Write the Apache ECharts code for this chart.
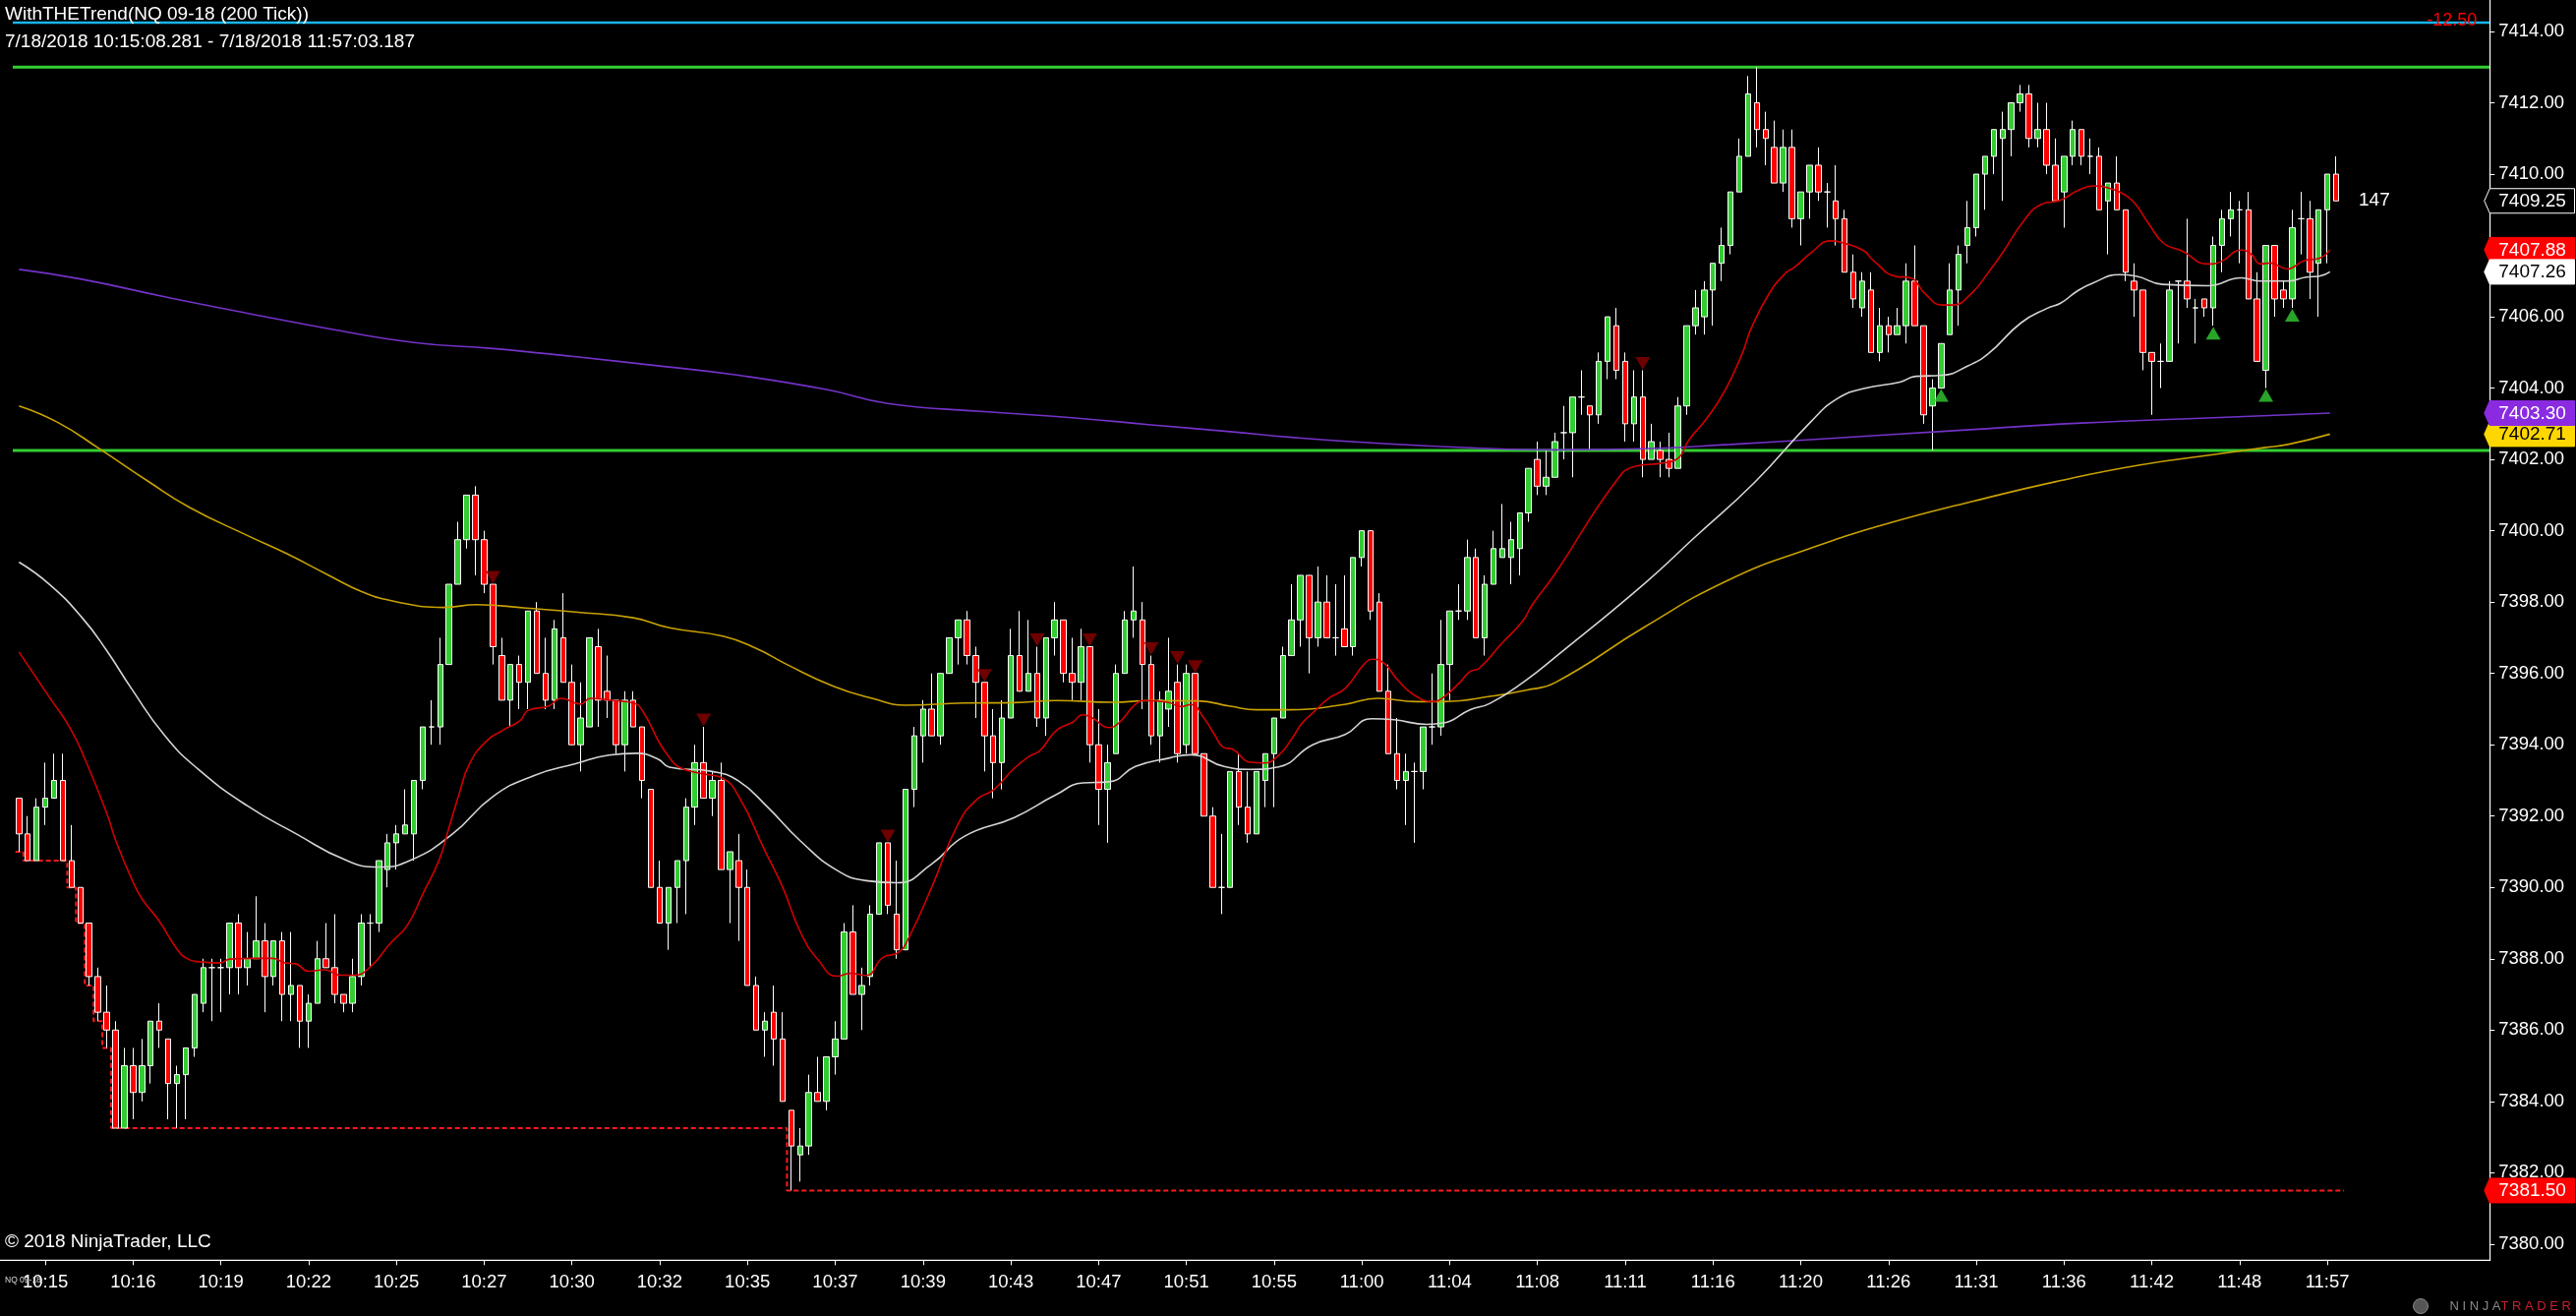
<!DOCTYPE html>
<html>
<head>
<meta charset="utf-8">
<title>WithTHETrend NQ 09-18 (200 Tick)</title>
<script src="https://cdn.jsdelivr.net/npm/echarts@6.0.0/dist/echarts.min.js"></script>
<style>
html,body{margin:0;padding:0;background:#000;overflow:hidden;}
#chart{width:2620px;height:1338px;}
</style>
</head>
<body>
<div id="chart"></div>
<script>
// ---------------- DATA ----------------
const titleText = 'WithTHETrend(NQ 09-18 (200 Tick))';
const rangeText = '7/18/2018 10:15:08.281 - 7/18/2018 11:57:03.187';
const timeLabels = ['10:15','10:16','10:19','10:22','10:25','10:27','10:30','10:32','10:35','10:37','10:39','10:43','10:47','10:51','10:55','11:00','11:04','11:08','11:11','11:16','11:20','11:26','11:31','11:36','11:42','11:48','11:57'];
const labelStart = 3;   // bar index of first time label
const labelStep = 10;   // a time label every 10 bars
const slotCount = 282;  // bar slots on the axis (265 bars + empty right margin)

const open = [
7392.5,7391.5,7390.75,7392.25,7392.5,7393.0,7390.75,7390.0,7389.0,7387.5,
7386.5,7386.0,7383.25,7385.0,7384.25,7385.0,7386.25,7385.75,7384.5,7384.75,
7385.5,7386.75,7387.75,7387.75,7387.75,7389.0,7387.75,7388.0,7388.5,7387.5,
7388.5,7387.0,7387.25,7386.25,7386.75,7388.0,7387.75,7387.0,7386.75,7387.5,
7389.0,7389.0,7390.5,7391.25,7391.5,7391.5,7393.0,7394.5,7394.5,7396.25,
7398.5,7399.75,7401.0,7399.75,7398.5,7396.5,7395.25,7396.25,7395.75,7397.75,
7396.0,7395.25,7397.0,7395.75,7394.0,7394.5,7396.75,7395.5,7395.25,7394.0,
7395.25,7394.5,7392.75,7390.0,7389.0,7390.0,7390.75,7392.25,7393.5,7392.5,
7393.0,7390.5,7390.75,7390.0,7387.25,7386.0,7386.5,7385.75,7383.75,7382.5,
7382.75,7384.25,7384.0,7385.25,7385.75,7388.75,7387.0,7387.5,7389.25,7391.25,
7389.25,7388.25,7392.75,7394.25,7395.0,7394.25,7396.0,7397.0,7397.5,7396.5,
7395.75,7394.25,7393.5,7394.75,7396.5,7395.5,7396.0,7394.75,7397.0,7397.5,
7396.0,7395.75,7396.75,7394.0,7392.75,7393.75,7396.0,7397.5,7397.5,7396.25,
7394.25,7395.0,7395.75,7394.0,7396.0,7393.75,7392.0,7390.0,7390.0,7393.25,
7392.25,7391.5,7393.0,7393.75,7394.75,7396.5,7397.5,7398.75,7397.0,7398.0,
7397.0,7397.25,7396.75,7399.25,7400.0,7398.0,7395.5,7393.75,7393.0,7393.25,
7393.25,7394.5,7394.5,7396.25,7397.75,7397.75,7399.25,7397.0,7398.5,7399.25,
7399.25,7399.5,7400.5,7402.0,7401.25,7401.5,7402.75,7402.75,7403.75,7403.5,
7403.25,7404.75,7405.75,7404.75,7403.0,7403.75,7402.0,7402.25,7402.0,7401.75,
7403.5,7405.75,7406.0,7406.75,7407.5,7408.0,7409.5,7410.5,7412.0,7411.25,
7410.75,7409.75,7410.75,7408.75,7409.5,7410.25,7409.5,7409.25,7408.75,7407.25,
7406.25,7406.75,7405.0,7405.75,7405.5,7405.75,7407.0,7405.75,7403.5,7404.0,
7405.5,7406.75,7408.0,7408.5,7410.0,7410.5,7411.0,7411.25,7412.0,7412.25,
7411.0,7411.25,7410.25,7409.5,7410.5,7411.25,7410.5,7410.5,7409.25,7409.75,
7409.0,7407.0,7406.75,7405.0,7404.75,7404.75,7407.0,7407.0,7406.25,7406.5,
7406.25,7408.0,7408.75,7409.0,7409.0,7406.5,7404.5,7408.0,7406.75,7406.5,
7408.75,7408.75,7407.5,7409.0,7410.0];
const high = [
7392.5,7392.0,7392.5,7393.5,7393.75,7393.75,7391.75,7390.0,7389.0,7387.75,
7387.25,7386.25,7385.5,7385.5,7385.75,7386.25,7386.75,7385.75,7385.0,7385.5,
7387.0,7388.0,7388.0,7388.0,7389.0,7389.25,7388.75,7389.75,7389.0,7388.5,
7388.75,7388.75,7387.25,7387.0,7388.5,7389.0,7389.25,7387.0,7388.0,7389.25,
7389.25,7390.75,7391.5,7391.75,7392.75,7393.0,7394.5,7395.25,7397.0,7398.5,
7400.25,7401.0,7401.25,7400.0,7398.5,7397.0,7396.25,7396.5,7397.75,7398.0,
7397.0,7397.5,7398.25,7396.25,7395.75,7397.0,7397.25,7396.5,7395.25,7395.5,
7395.5,7394.5,7392.75,7390.75,7390.0,7390.75,7392.5,7394.0,7394.5,7393.25,
7393.5,7391.0,7391.5,7390.5,7387.5,7386.5,7387.25,7386.5,7383.75,7383.25,
7384.75,7385.25,7385.25,7386.25,7389.0,7389.5,7387.75,7389.5,7391.25,7391.25,
7390.75,7392.75,7394.5,7395.25,7396.0,7396.0,7397.0,7397.5,7397.75,7396.75,
7395.75,7395.0,7395.25,7397.25,7397.75,7397.5,7396.75,7397.0,7398.0,7397.5,
7397.0,7397.25,7396.75,7395.0,7394.0,7396.25,7397.75,7399.0,7398.0,7396.5,
7395.5,7397.0,7396.25,7396.25,7396.0,7393.75,7392.25,7391.5,7393.25,7393.75,
7393.25,7393.25,7393.75,7394.75,7396.75,7398.5,7398.75,7398.75,7399.0,7398.75,
7398.5,7398.75,7399.25,7400.0,7400.0,7398.25,7396.25,7394.75,7393.75,7393.5,
7394.5,7396.0,7397.5,7397.75,7398.5,7399.75,7399.5,7398.75,7400.0,7400.75,
7400.25,7400.5,7401.75,7402.5,7402.25,7402.75,7403.5,7403.75,7404.5,7403.5,
7405.0,7406.0,7406.25,7405.0,7404.5,7404.5,7403.0,7402.5,7402.75,7403.75,
7405.75,7406.75,7407.0,7407.5,7408.5,7409.5,7411.0,7412.75,7413.0,7411.75,
7411.5,7411.25,7411.25,7409.5,7410.25,7410.75,7409.75,7410.25,7409.0,7407.75,
7407.25,7407.25,7406.25,7406.0,7406.25,7407.5,7408.0,7405.75,7404.25,7405.25,
7407.5,7408.0,7409.25,7410.0,7410.5,7411.25,7411.75,7412.0,7412.5,7412.5,
7412.0,7412.0,7411.0,7410.5,7411.5,7411.25,7411.0,7410.75,7409.75,7410.5,
7409.0,7407.5,7406.75,7405.0,7405.25,7407.0,7407.0,7408.75,7406.5,7406.5,
7408.25,7409.0,7409.5,7409.25,7409.5,7407.25,7408.0,7408.0,7407.0,7409.0,
7409.5,7409.25,7409.0,7410.0,7410.5];
const low = [
7391.0,7390.75,7390.75,7391.75,7392.5,7390.75,7390.0,7389.0,7387.25,7386.25,
7385.5,7383.25,7383.25,7383.5,7384.0,7384.5,7385.5,7383.5,7383.25,7383.5,
7385.25,7386.5,7386.25,7386.5,7387.0,7387.0,7387.25,7388.0,7386.5,7387.25,
7386.25,7386.25,7385.5,7385.5,7386.75,7387.75,7386.75,7386.5,7386.5,7387.25,
7387.75,7388.75,7390.0,7390.5,7391.5,7390.75,7392.75,7394.0,7394.0,7396.25,
7398.5,7399.5,7398.75,7398.25,7396.25,7395.25,7394.5,7395.0,7395.0,7396.0,
7395.0,7395.0,7395.75,7394.0,7393.25,7394.5,7394.5,7394.75,7393.75,7393.25,
7394.5,7392.5,7390.0,7389.0,7388.25,7389.0,7389.25,7391.75,7392.5,7392.0,
7390.5,7389.0,7388.5,7387.25,7386.0,7385.25,7385.0,7384.0,7381.5,7381.75,
7382.5,7384.0,7383.75,7384.75,7385.75,7387.0,7386.0,7387.25,7389.25,7389.25,
7388.0,7388.25,7392.25,7393.5,7394.25,7394.0,7396.0,7396.25,7396.25,7394.75,
7393.25,7392.5,7392.75,7394.75,7395.5,7395.5,7394.5,7394.25,7396.5,7395.75,
7395.25,7395.25,7393.5,7391.75,7391.25,7393.75,7396.0,7397.0,7395.0,7394.0,
7393.5,7394.5,7393.5,7393.75,7393.75,7392.0,7390.0,7389.25,7390.0,7391.75,
7391.25,7391.5,7392.25,7392.25,7394.75,7396.5,7396.75,7396.0,7396.75,7397.0,
7396.5,7396.75,7396.5,7399.0,7397.5,7395.5,7393.75,7392.75,7391.75,7391.25,
7392.75,7394.0,7394.25,7395.25,7397.5,7397.5,7397.0,7396.5,7398.5,7399.25,
7398.5,7398.75,7400.25,7401.0,7401.0,7401.5,7402.0,7401.5,7403.25,7402.25,
7403.0,7404.25,7404.25,7402.5,7402.5,7401.5,7402.0,7401.5,7401.5,7401.75,
7403.25,7405.5,7405.5,7405.75,7407.0,7407.75,7409.5,7410.5,7410.75,7410.25,
7409.75,7409.5,7408.5,7408.0,7408.75,7409.25,7408.5,7408.0,7407.25,7406.25,
7406.0,7405.0,7404.75,7405.0,7405.5,7405.25,7405.75,7403.0,7402.25,7404.0,
7405.5,7405.75,7407.5,7408.25,7409.0,7410.0,7409.25,7410.5,7411.75,7410.75,
7410.75,7410.0,7409.25,7408.5,7410.25,7410.25,7410.0,7409.0,7407.75,7409.0,
7407.0,7406.0,7404.5,7403.25,7404.0,7404.75,7405.25,7406.25,7405.25,7406.0,
7405.75,7407.25,7408.25,7407.5,7406.5,7404.75,7404.0,7406.0,7406.25,7406.25,
7407.75,7406.5,7406.0,7407.5,7409.25];
const close = [
7391.5,7390.75,7392.25,7392.5,7393.0,7390.75,7390.0,7389.0,7387.5,7386.5,
7386.0,7383.25,7385.0,7384.25,7385.0,7386.25,7386.0,7384.5,7384.75,7385.5,
7387.0,7387.75,7387.75,7387.75,7389.0,7387.75,7388.0,7388.5,7387.5,7388.5,
7387.0,7387.25,7386.25,7386.75,7388.0,7387.75,7387.0,7386.75,7387.5,7389.0,
7389.0,7390.75,7391.25,7391.5,7391.75,7393.0,7394.5,7394.5,7396.25,7398.5,
7399.75,7401.0,7399.75,7398.5,7396.75,7395.25,7396.25,7395.75,7397.75,7396.0,
7395.25,7397.25,7395.75,7394.0,7394.75,7397.0,7395.25,7395.25,7394.0,7395.25,
7394.5,7393.0,7390.0,7389.0,7390.0,7390.75,7392.25,7393.5,7392.5,7393.0,
7390.5,7391.0,7390.0,7387.25,7386.0,7386.25,7385.75,7384.0,7382.75,7382.75,
7384.25,7384.0,7385.25,7385.75,7388.75,7387.0,7387.25,7389.25,7391.25,7389.5,
7388.25,7392.75,7394.25,7395.0,7394.25,7396.0,7397.0,7397.5,7396.5,7395.75,
7394.25,7393.5,7394.75,7396.5,7395.5,7396.0,7394.75,7397.0,7397.5,7396.0,
7395.75,7396.75,7394.0,7392.75,7393.5,7396.0,7397.5,7397.75,7396.25,7394.25,
7395.25,7395.5,7393.75,7396.0,7393.75,7392.0,7390.0,7390.0,7393.25,7392.25,
7391.5,7393.25,7393.75,7394.75,7396.5,7397.5,7398.75,7397.0,7398.0,7397.0,
7397.0,7396.75,7399.25,7400.0,7397.75,7395.5,7393.75,7393.0,7393.25,7393.25,
7394.5,7394.5,7396.25,7397.75,7397.75,7399.25,7397.0,7398.5,7399.5,7399.5,
7399.75,7400.5,7401.75,7401.25,7401.5,7402.5,7402.75,7403.75,7403.75,7403.25,
7404.75,7406.0,7404.5,7403.0,7403.75,7402.0,7402.5,7402.0,7401.75,7403.5,
7405.75,7406.25,7406.75,7407.5,7408.0,7409.5,7410.5,7412.25,7411.25,7411.0,
7409.75,7410.75,7408.75,7409.5,7410.25,7409.5,7409.5,7408.75,7407.25,7406.5,
7407.0,7405.0,7405.75,7405.5,7405.75,7407.0,7405.75,7403.25,7404.0,7405.25,
7406.75,7407.75,7408.5,7410.0,7410.5,7411.25,7411.25,7412.0,7412.25,7411.0,
7411.25,7410.25,7409.25,7410.5,7411.25,7410.5,7410.5,7409.0,7409.75,7409.0,
7407.25,7406.75,7405.0,7404.75,7404.75,7406.75,7407.0,7406.5,7406.25,7406.25,
7408.0,7408.75,7409.0,7409.0,7406.5,7404.75,7408.0,7406.5,7406.5,7408.5,
7408.75,7407.25,7409.0,7410.0,7409.25];

// moving averages read at sample bars: [bar, value]
const maRed = [[0,7396.6],[3.5,7395.32],[5.8,7394.48],[7.6,7393.55],[10,7392.08],[11.1,7391.26],[13,7390.15],[14.1,7389.65],[16,7389.05],[18,7388.27],[19.1,7388.01],[20.3,7387.92],[22.9,7387.88],[24,7387.99],[27,7388.01],[28.9,7388.01],[30.4,7387.88],[31.5,7387.86],[33,7387.65],[34.8,7387.69],[36.7,7387.54],[38.2,7387.54],[40.1,7387.79],[42.3,7388.43],[44.2,7388.92],[46,7389.81],[47.9,7390.79],[49,7391.68],[50.2,7392.66],[51.3,7393.45],[53.2,7394.09],[55,7394.39],[57.1,7394.68],[58,7394.96],[60.3,7395.08],[61.8,7395.3],[64,7395.14],[65.1,7395.3],[67.7,7395.24],[70,7395.17],[71.1,7394.93],[73,7394.04],[74.1,7393.65],[75.2,7393.37],[77.8,7393.19],[80.1,7393.07],[82.1,7392.51],[84.9,7391.07],[87,7390.01],[89.1,7388.71],[91.1,7387.95],[93.2,7387.51],[94.7,7387.59],[96.5,7387.53],[98.4,7388.03],[100.3,7388.19],[101.4,7388.6],[104,7390.01],[107,7391.78],[109.2,7392.48],[111.1,7392.75],[113.35,7393.33],[115.2,7393.69],[116.3,7393.83],[118.2,7394.4],[120.1,7394.64],[121.2,7394.84],[122.3,7394.75],[124.2,7394.48],[125.3,7394.61],[127.2,7395.13],[128.3,7395.24],[130.9,7395.19],[132.4,7395.07],[133.5,7395.13],[135,7394.75],[136.2,7394.29],[137.3,7393.92],[138.2,7393.88],[140.3,7393.51],[141.8,7393.49],[143.5,7393.7],[145.1,7394.2],[146.2,7394.61],[147.4,7394.89],[149.2,7395.3],[151.1,7395.58],[153.3,7396.27],[154.3,7396.4],[155.6,7396.27],[157.1,7395.81],[159.1,7395.37],[161.2,7395.21],[162.3,7395.33],[164.2,7395.76],[165.3,7396.05],[166.4,7396.15],[169,7396.86],[171.3,7397.46],[172.4,7397.92],[175,7398.79],[181.9,7401.37],[184.2,7401.81],[187,7401.89],[188.9,7402.01],[190.3,7402.56],[192.2,7403.12],[194.3,7403.9],[196.3,7404.95],[197.3,7405.64],[199.3,7406.61],[201.2,7407.21],[202.3,7407.39],[204.2,7407.8],[206.4,7408.13],[208.3,7408.04],[210.2,7407.85],[211.3,7407.57],[213.9,7407.13],[215.4,7407.1],[217.3,7406.61],[219.1,7406.33],[220.3,7406.33],[222.5,7406.67],[224.4,7407.25],[225.9,7407.76],[228.5,7408.72],[230.3,7409.14],[232.6,7409.27],[234.5,7409.53],[236.3,7409.67],[238.2,7409.6],[240.1,7409.39],[241.2,7409.14],[242.7,7408.59],[244.4,7408.05],[246.4,7407.85],[249.4,7407.48],[250.9,7407.55],[253.2,7407.87],[254.3,7407.76],[255.4,7407.48],[256.5,7407.51],[258.4,7407.34],[260.3,7407.57],[262.1,7407.64],[263.3,7407.88]];
const maWhite = [[0,7399.12],[3.5,7398.49],[7.2,7397.56],[10,7396.64],[12.8,7395.58],[16.6,7394.26],[20.3,7393.34],[26,7392.29],[31.6,7391.5],[37.2,7390.77],[41,7390.57],[44.7,7390.77],[49.4,7391.5],[54,7392.55],[58.7,7393.14],[63.4,7393.47],[67.2,7393.71],[70.4,7393.76],[72.8,7393.6],[74.1,7393.37],[79,7393.25],[82,7392.98],[85.3,7392.25],[89,7391.31],[93.2,7390.48],[96.5,7390.19],[100,7390.13],[104,7390.66],[107.7,7391.43],[113.4,7391.96],[118.1,7392.59],[121.2,7392.93],[124.2,7392.96],[127.2,7393.39],[131.1,7393.63],[133.5,7393.72],[137.3,7393.39],[140.3,7393.31],[143.5,7393.38],[147.4,7394.0],[151.1,7394.29],[154.1,7394.73],[156.7,7394.7],[160.4,7394.57],[162.3,7394.61],[165.3,7394.98],[167.6,7395.16],[171.7,7395.81],[175,7396.45],[185.2,7398.52],[190.9,7399.81],[197.8,7401.37],[204.2,7403.07],[207.2,7403.71],[210.2,7403.99],[214.3,7404.17],[216.1,7404.33],[219.1,7404.36],[222.1,7404.63],[224.4,7404.97],[228.1,7405.83],[231.1,7406.24],[232.6,7406.38],[234.5,7406.72],[236.3,7406.95],[239.3,7407.18],[241.2,7407.14],[244.2,7406.91],[249.4,7406.87],[253.2,7407.09],[255.4,7407.0],[258.4,7407.0],[260.6,7407.11],[262.1,7407.14],[263.3,7407.26]];
const maYellow = [[0,7403.5],[4.4,7403.04],[9.1,7402.31],[14.7,7401.39],[19.4,7400.66],[26,7399.87],[30.6,7399.35],[35.3,7398.75],[39.1,7398.29],[42.8,7398.02],[48.4,7397.85],[52.2,7397.93],[57.8,7397.83],[63.4,7397.72],[70,7397.56],[74.1,7397.28],[80.3,7397.04],[84,7396.7],[87.5,7396.25],[92.8,7395.64],[97.2,7395.3],[101,7395.11],[107.7,7395.17],[113.4,7395.18],[118.2,7395.24],[124.6,7395.19],[129,7395.24],[134.3,7395.23],[138,7395.08],[141,7394.98],[144.8,7394.98],[151,7395.13],[154.8,7395.3],[159.3,7395.21],[162.3,7395.21],[168,7395.37],[171.7,7395.53],[175,7395.74],[185.2,7397.3],[194.6,7398.6],[204,7399.5],[213.3,7400.23],[222.7,7400.83],[232.1,7401.38],[241.5,7401.84],[250.8,7402.16],[255.8,7402.33],[258.5,7402.42],[263.3,7402.71]];
const maPurple = [[0,7407.33],[7,7407.06],[17,7406.54],[26,7406.1],[35,7405.68],[45,7405.28],[54,7405.11],[63,7404.89],[73,7404.62],[82,7404.36],[92,7403.96],[99,7403.57],[110,7403.34],[120,7403.17],[129,7402.97],[138,7402.78],[145,7402.62],[155,7402.45],[166,7402.32],[175,7402.27],[185,7402.3],[195,7402.42],[205,7402.57],[220,7402.8],[235,7403.02],[250,7403.17],[263.3,7403.3]];

// running-low stop line: [bar where level starts, level]
const lowStops = [[-0.4,7391.0],[0.5,7390.75],[5.5,7390.0],[6.5,7389.0],[7.5,7387.25],[8.5,7386.25],[9.5,7385.5],[10.5,7383.25],[87.5,7381.5],[264.9,7381.5]];

const sellSignals = [54,78,99,110,116,122,129,132,134,185];  // bars with dark red down-triangles above the high
const buySignals = [219,250,256,259];                         // bars with green up-triangles below the low

const greenLevels = [7413.0, 7402.25];
const blueLevel = 7414.25;
const blueLevelText = '-12.50';
const ticksRemaining = '147';
const priceMin = 7380, priceMax = 7414, priceStep = 2;

// ---------------- LAYOUT ----------------
const W = 2620, H = 1338;
const BAR = 8.927;            // pixel spacing of bars
const PLOT_LEFT = 14.84;      // so bar 0 sits at x≈19
const Y_TOP = 32;             // pixel of priceMax
const PX_PER_PT = 36.26;
const PLOT_BOTTOM = 1281.3;
const FONT = '"Liberation Sans", Arial, Helvetica, sans-serif';

const categories = Array.from({length: slotCount}, (_, i) => String(i));
const isLabelBar = (i) => i >= labelStart && (i - labelStart) % labelStep === 0 && (i - labelStart) / labelStep < timeLabels.length;

const chart = echarts.init(document.getElementById('chart'), null, {renderer: 'canvas', width: W, height: H});

const gridHeight = (priceMax - priceMin) * PX_PER_PT;
const lineOpts = (data, color, width) => ({
  type: 'line', xAxisIndex: 1, yAxisIndex: 0, data: data, smooth: true, symbol: 'none',
  showSymbol: false, silent: true, lineStyle: {color: color, width: width}, z: 4
});
const levelSeries = (v, color, width) => ({
  type: 'line', xAxisIndex: 1, yAxisIndex: 0, clip: false, symbol: 'none', silent: true,
  data: [[-0.5 - PLOT_LEFT / BAR, v], [slotCount - 0.5, v]],
  lineStyle: {color: color, width: width}, z: 3
});

const option = {
  backgroundColor: '#000000',
  animation: false,
  grid: {left: PLOT_LEFT, top: Y_TOP, width: slotCount * BAR, height: gridHeight, containLabel: false, outerBoundsMode: 'none'},
  xAxis: [
    {
      type: 'category', data: categories, boundaryGap: true,
      offset: PLOT_BOTTOM - (Y_TOP + gridHeight),
      axisLine: {show: false, onZero: false},
      axisTick: {show: true, alignWithLabel: true, interval: (i) => isLabelBar(i), length: 5, lineStyle: {color: '#ffffff', width: 1}},
      axisLabel: {
        show: true, interval: (i) => isLabelBar(i), color: '#ffffff', fontSize: 18.5, fontFamily: FONT, margin: 13,
        formatter: (v, i) => isLabelBar(i) ? timeLabels[(i - labelStart) / labelStep] : ''
      },
      splitLine: {show: false}
    },
    {type: 'value', min: -0.5, max: slotCount - 0.5, show: false, axisLine: {onZero: false}}
  ],
  yAxis: [{
    type: 'value', position: 'right', min: priceMin, max: priceMax, interval: priceStep, scale: true,
    axisLine: {show: false, onZero: false},
    axisTick: {show: true, length: 5, lineStyle: {color: '#ffffff', width: 1}},
    axisLabel: {color: '#ffffff', fontSize: 18.5, fontFamily: FONT, margin: 9, formatter: (v) => v.toFixed(2)},
    splitLine: {show: false}
  }],
  series: [
    levelSeries(greenLevels[0], '#32CD32', 3),
    levelSeries(greenLevels[1], '#32CD32', 3),
    levelSeries(blueLevel, '#17B6EC', 2.5),
    {
      type: 'line', xAxisIndex: 1, yAxisIndex: 0, data: lowStops, step: 'end', symbol: 'none', silent: true,
      lineStyle: {color: '#FF1A1A', width: 2, type: [5, 3]}, z: 3
    },
    {
      type: 'candlestick', xAxisIndex: 0, yAxisIndex: 0, barWidth: 6,
      data: open.map((o, i) => [o, close[i], low[i], high[i]]),
      itemStyle: {color: '#32CD32', color0: '#FF0000', borderColor: '#FFFFFF', borderColor0: '#FFFFFF', borderColorDoji: '#FFFFFF', borderWidth: 1},
      z: 3
    },
    lineOpts(maPurple, '#7432C8', 1.6),
    lineOpts(maYellow, '#C9A200', 1.6),
    lineOpts(maWhite, '#D4D4D4', 1.6),
    lineOpts(maRed, '#D00000', 1.6),
    {
      type: 'scatter', xAxisIndex: 0, yAxisIndex: 0, silent: true,
      data: sellSignals.map(k => [k, high[k]]),
      symbol: 'triangle', symbolRotate: 180, symbolSize: [15, 13], symbolOffset: [0, -7],
      itemStyle: {color: '#8B0000'}, z: 6
    },
    {
      type: 'scatter', xAxisIndex: 0, yAxisIndex: 0, silent: true,
      data: buySignals.map(k => [k, low[k]]),
      symbol: 'triangle', symbolSize: [15, 13], symbolOffset: [0, 7.5],
      itemStyle: {color: '#32CD32'}, z: 6
    }
  ]
};
chart.setOption(option);

// ---------------- ANNOTATIONS placed through the chart's own scales ----------------
const yPix = (v) => chart.convertToPixel({yAxisIndex: 0}, v);
const xPix = (k) => chart.convertToPixel({xAxisIndex: 0}, k);
const axisX = chart.convertToPixel({xAxisIndex: 1}, slotCount - 0.5);
const txt = (text, x, y, size, color, align, extra) => ({
  type: 'text', x: x, y: y, z: 100, silent: true,
  style: Object.assign({text: text, fill: color, font: 'normal ' + size + 'px ' + FONT,
    textAlign: align || 'left', align: align || 'left', textVerticalAlign: 'middle', verticalAlign: 'middle'}, extra || {})
});
function flag(value, fill, textColor, stroke) {
  const y = yPix(value);
  return [
    {type: 'polygon', z: 90, silent: true,
     shape: {points: [[axisX - 5.5, y], [axisX, y - 12.5], [W - 1.5, y - 12.5], [W - 1.5, y + 12.5], [axisX, y + 12.5]]},
     style: {fill: fill, stroke: stroke || fill, lineWidth: 1}},
    txt(value.toFixed(2), axisX + 9, y + 0.5, 19, textColor)
  ];
}
const last = (arr) => arr[arr.length - 1][1];
const lastClose = close[close.length - 1];
const minLow = Math.min.apply(null, low);

const graphics = [].concat(
  [
    {type: 'line', z: 80, silent: true, shape: {x1: axisX + 0.3, y1: 0, x2: axisX + 0.3, y2: PLOT_BOTTOM}, style: {stroke: '#ffffff', lineWidth: 1.2}},
    {type: 'line', z: 80, silent: true, shape: {x1: 0, y1: PLOT_BOTTOM, x2: axisX + 0.9, y2: PLOT_BOTTOM}, style: {stroke: '#ffffff', lineWidth: 1.2}},
    txt(titleText, 5, 15, 19, '#ffffff'),
    txt(rangeText, 5, 43, 19, '#ffffff'),
    txt(blueLevelText, axisX - 13, yPix(blueLevel) - 2, 18, '#FF0000', 'right'),
    txt(ticksRemaining, xPix(close.length - 1) + 23, yPix(lastClose), 19, '#ffffff'),
    txt('\u00A9 2018 NinjaTrader, LLC', 5, 1263, 19, '#ffffff'),
    txt('NQ 09-18', 5, 1302, 8.5, '#dddddd'),
    {type: 'circle', z: 90, silent: true, shape: {cx: 2462, cy: 1328, r: 7.5}, style: {fill: '#555555', stroke: '#8a8a8a', lineWidth: 1}},
    {type: 'text', x: 2615, y: 1328, z: 100, silent: true,
     style: {text: '{a|N I N J A}{b|T R A D E R}', font: 'normal 13px ' + FONT, textAlign: 'right', align: 'right', textVerticalAlign: 'middle', verticalAlign: 'middle',
       rich: {a: {fill: '#8a8a8a', font: 'normal 13px ' + FONT}, b: {fill: '#C8202E', font: 'normal 13px ' + FONT}}}}
  ],
  flag(last(maYellow), '#FFD700', '#000000'),
  flag(last(maPurple), '#8A2BE2', '#ffffff'),
  flag(last(maRed), '#FF0000', '#ffffff'),
  flag(last(maWhite), '#FFFFFF', '#000000'),
  flag(lastClose, '#000000', '#ffffff', '#ffffff'),
  flag(minLow, '#FF0000', '#ffffff')
);
chart.setOption({graphic: graphics});
</script>
</body>
</html>
